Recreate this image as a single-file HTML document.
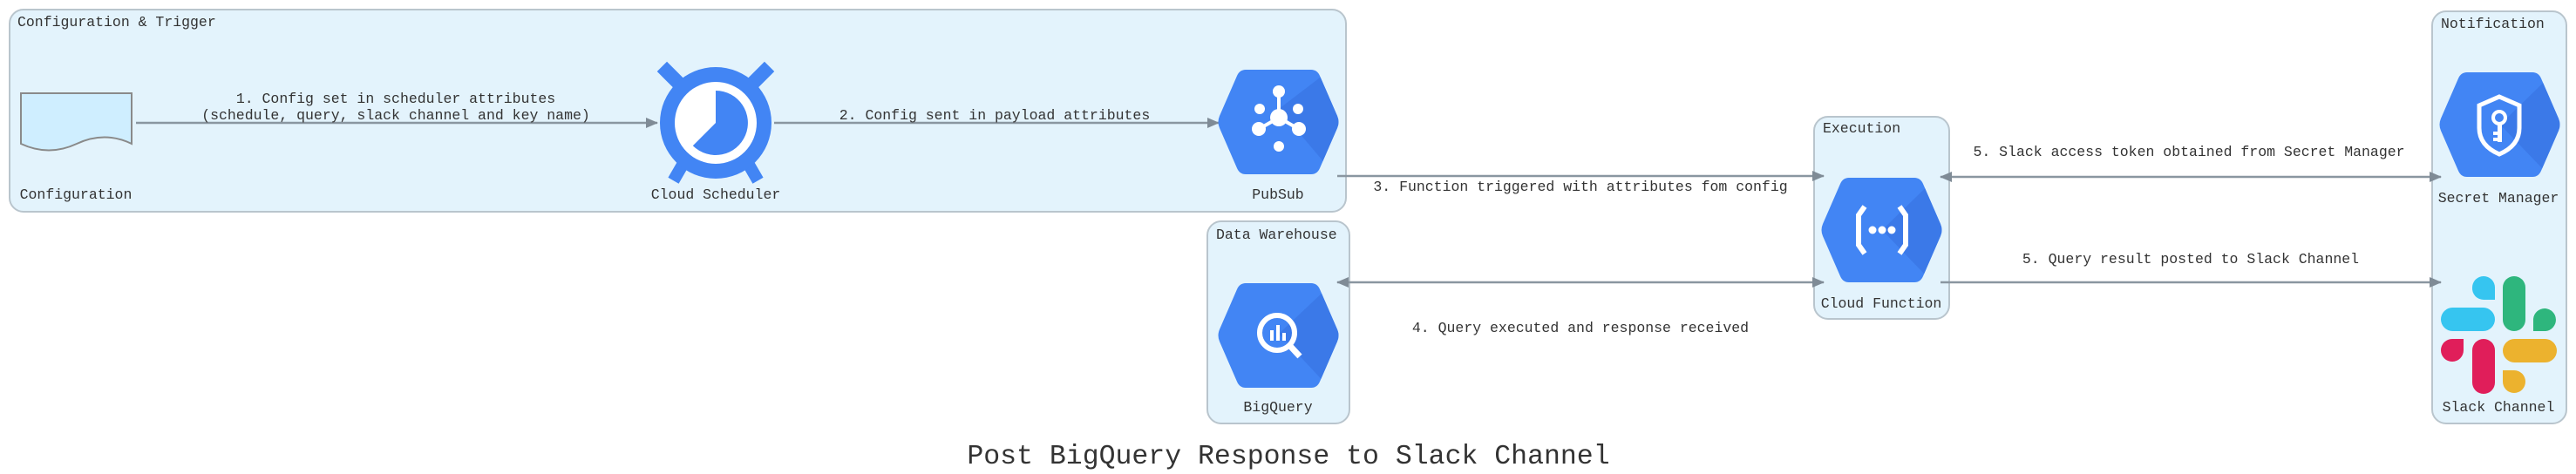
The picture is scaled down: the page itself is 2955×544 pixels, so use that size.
<!DOCTYPE html>
<html><head><meta charset="utf-8"><style>
html,body{margin:0;padding:0;background:#fff;}
svg{display:block;}
text{font-family:"Liberation Mono",monospace;fill:#333;}
</style></head><body>
<svg width="2955" height="544" viewBox="0 0 2955 544" xmlns="http://www.w3.org/2000/svg">
<defs>
<marker id="ah" markerWidth="14" markerHeight="12" refX="13" refY="6" orient="auto" markerUnits="userSpaceOnUse">
<path d="M0,0 L14,6 L0,12 Z" fill="#7f8b96"/></marker>
<marker id="as" markerWidth="14" markerHeight="12" refX="1" refY="6" orient="auto" markerUnits="userSpaceOnUse">
<path d="M14,0 L0,6 L14,12 Z" fill="#7f8b96"/></marker>
<g id="hex">
<path d="M30,0 L105,0 Q112,0 115,7 L135,53 Q138,60 135,67 L115,113 Q112,120 105,120 L30,120 Q23,120 20,113 L0,67 Q-3,60 0,53 L20,7 Q23,0 30,0 Z" fill="#4285f4"/>
</g>
<clipPath id="hc"><path d="M30,0 L105,0 Q112,0 115,7 L135,53 Q138,60 135,67 L115,113 Q112,120 105,120 L30,120 Q23,120 20,113 L0,67 Q-3,60 0,53 L20,7 Q23,0 30,0 Z"/></clipPath>
</defs>

<!-- groups -->
<rect x="11" y="11" width="1533" height="232" rx="16" fill="#e3f3fc" stroke="#b9c5cd" stroke-width="2"/>
<text x="20" y="30" font-size="16.5">Configuration &amp; Trigger</text>
<rect x="1385" y="254" width="163" height="232" rx="16" fill="#e3f3fc" stroke="#b9c5cd" stroke-width="2"/>
<text x="1395" y="274" font-size="16.5">Data Warehouse</text>
<rect x="2081" y="134" width="155" height="232" rx="16" fill="#e3f3fc" stroke="#b9c5cd" stroke-width="2"/>
<text x="2091" y="152" font-size="16.5">Execution</text>
<rect x="2790" y="13" width="154" height="473" rx="16" fill="#e3f3fc" stroke="#b9c5cd" stroke-width="2"/>
<text x="2800" y="32" font-size="16.5">Notification</text>

<!-- connectors -->
<g stroke="#8a96a0" stroke-width="2.5" fill="none">
<line x1="156" y1="141" x2="754" y2="141" marker-end="url(#ah)"/>
<line x1="888" y1="141" x2="1398" y2="141" marker-end="url(#ah)"/>
<line x1="1534" y1="202" x2="2092" y2="202" marker-end="url(#ah)"/>
<line x1="1534" y1="324" x2="2092" y2="324" marker-start="url(#as)" marker-end="url(#ah)"/>
<line x1="2226" y1="203" x2="2800" y2="203" marker-start="url(#as)" marker-end="url(#ah)"/>
<line x1="2226" y1="324" x2="2800" y2="324" marker-end="url(#ah)"/>
</g>
<g font-size="16.5" text-anchor="middle">
<text x="454" y="118">1. Config set in scheduler attributes</text>
<text x="454" y="137">(schedule, query, slack channel and key name)</text>
<text x="1141" y="137">2. Config sent in payload attributes</text>
<text x="1813" y="219">3. Function triggered with attributes fom config</text>
<text x="1813" y="381">4. Query executed and response received</text>
<text x="2511" y="179">5. Slack access token obtained from Secret Manager</text>
<text x="2513" y="302">5. Query result posted to Slack Channel</text>
</g>

<!-- Configuration doc -->
<path d="M24,107 L151,107 L151,165 Q120,150 88,165 Q56,180 24,165 Z" fill="#cfeeff" stroke="#8a8a8a" stroke-width="2"/>
<text x="87" y="228" font-size="16.5" text-anchor="middle">Configuration</text>

<!-- Cloud Scheduler -->
<g fill="#4285f4">
<rect x="762" y="72" width="16" height="30" transform="rotate(-45 770 87)"/>
<rect x="864" y="72" width="16" height="30" transform="rotate(45 872 87)"/>
<rect x="772" y="183" width="14" height="26" transform="rotate(30 779 196)"/>
<rect x="856" y="183" width="14" height="26" transform="rotate(-30 863 196)"/>
<circle cx="821" cy="141" r="64"/>
</g>
<circle cx="821" cy="141" r="47" fill="#fff"/>
<path d="M821,141 L821,104 A37,37 0 1 1 794.8,167.2 Z" fill="#4285f4"/>
<text x="821" y="228" font-size="16.5" text-anchor="middle">Cloud Scheduler</text>

<!-- PubSub -->
<g transform="translate(1399,80)">
<use href="#hex"/>
<path d="M68,45 L140,130 L140,-10 Z" fill="#3b78e7" clip-path="url(#hc)" opacity="0.9"/>
<g fill="#fff" stroke="#fff">
<line x1="68" y1="27" x2="68" y2="55" stroke-width="4"/>
<line x1="68" y1="55" x2="47" y2="67" stroke-width="4"/>
<line x1="68" y1="55" x2="89" y2="67" stroke-width="4"/>
<circle cx="68" cy="25" r="7" stroke="none"/>
<circle cx="68" cy="55" r="10" stroke="none"/>
<circle cx="46" cy="45" r="6" stroke="none"/>
<circle cx="90" cy="45" r="6" stroke="none"/>
<circle cx="45" cy="68" r="8" stroke="none"/>
<circle cx="91" cy="68" r="8" stroke="none"/>
<circle cx="68" cy="88" r="6" stroke="none"/>
</g>
</g>
<text x="1466" y="228" font-size="16.5" text-anchor="middle">PubSub</text>

<!-- BigQuery -->
<g transform="translate(1399,325)">
<use href="#hex"/>
<path d="M68,58 L140,135 L140,-10 Z" fill="#3b78e7" clip-path="url(#hc)" opacity="0.9"/>
<circle cx="66" cy="57" r="20" fill="none" stroke="#fff" stroke-width="6"/>
<line x1="80" y1="71" x2="92" y2="84" stroke="#fff" stroke-width="7"/>
<rect x="58" y="54" width="4" height="12" fill="#fff"/>
<rect x="65" y="48" width="4" height="18" fill="#fff"/>
<rect x="72" y="57" width="4" height="9" fill="#fff"/>
</g>
<text x="1466" y="472" font-size="16.5" text-anchor="middle">BigQuery</text>

<!-- Cloud Function -->
<g transform="translate(2091,204)">
<use href="#hex"/>
<path d="M68,60 L140,135 L140,-10 Z" fill="#3b78e7" clip-path="url(#hc)" opacity="0.9"/>
<path d="M48,33 L41,43 L41,77 L48,87" fill="none" stroke="#fff" stroke-width="6"/>
<path d="M88,33 L95,43 L95,77 L88,87" fill="none" stroke="#fff" stroke-width="6"/>
<circle cx="57" cy="60" r="4.5" fill="#fff"/><circle cx="68" cy="60" r="4.5" fill="#fff"/><circle cx="79" cy="60" r="4.5" fill="#fff"/>
</g>
<text x="2158" y="353" font-size="16.5" text-anchor="middle">Cloud Function</text>

<!-- Secret Manager -->
<g transform="translate(2800,83)">
<use href="#hex"/>
<path d="M68,60 L140,135 L140,-10 Z" fill="#3b78e7" clip-path="url(#hc)" opacity="0.9"/>
<path d="M67,28 L90,38 L90,64 Q90,84 67,94 Q44,84 44,64 L44,38 Z" fill="none" stroke="#fff" stroke-width="5"/>
<circle cx="67" cy="52" r="7" fill="none" stroke="#fff" stroke-width="4"/>
<rect x="65" y="58" width="5" height="22" fill="#fff"/>
<rect x="60" y="68" width="6" height="4" fill="#fff"/>
<rect x="60" y="75" width="6" height="4" fill="#fff"/>
</g>
<text x="2866" y="232" font-size="16.5" text-anchor="middle">Secret Manager</text>

<!-- Slack -->
<g transform="translate(2800,317)">
<path d="M36,13 A13,13 0 0 1 62,13 L62,27 L49,27 A13,13 0 0 1 36,13 Z" fill="#36c5f0"/>
<rect x="0" y="36" width="62" height="27" rx="13.5" fill="#36c5f0"/>
<rect x="71" y="0" width="26" height="63" rx="13" fill="#2eb67d"/>
<path d="M106,63 L106,49 A13,13 0 1 1 120,63 Z" fill="#2eb67d"/>
<path d="M26,72 L26,85 A13,13 0 1 1 13,72 Z" fill="#e01e5a"/>
<rect x="36" y="72" width="26" height="63" rx="13" fill="#e01e5a"/>
<rect x="71" y="72" width="62" height="27" rx="13.5" fill="#ecb22e"/>
<path d="M71,108 L84,108 A13,13 0 1 1 71,121 Z" fill="#ecb22e"/>
</g>
<text x="2866" y="472" font-size="16.5" text-anchor="middle">Slack Channel</text>

<!-- title -->
<text x="1478" y="532" font-size="31.5" text-anchor="middle">Post BigQuery Response to Slack Channel</text>
</svg>
</body></html>
